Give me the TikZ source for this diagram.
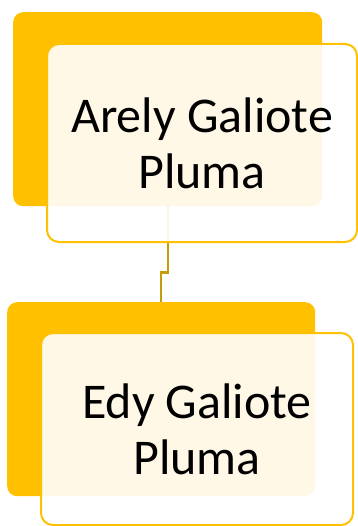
\documentclass[tikz,border=0pt]{standalone}
\usepackage{fontspec}
\setmainfont{Carlito}
\usetikzlibrary{backgrounds,calc}
\definecolor{gold}{RGB}{255,192,0}
\definecolor{connc}{RGB}{200,155,10}
\begin{document}
\begin{tikzpicture}[x=1pt,y=-1pt,
  backbox/.style={fill=gold, draw=none, rounded corners=10pt, inner sep=0pt, anchor=north west},
  frontbox/.style={fill=white, fill opacity=0.9, text opacity=1, draw=gold, draw opacity=1, line width=2pt,
    rounded corners=12pt, inner sep=0pt, anchor=north west, align=center,
    font=\fontsize{50}{56}\selectfont},
  conn/.style={draw=connc, line width=2.4pt}]
\useasboundingbox (0,0) rectangle (357,526);
% top pair
\node[backbox, minimum width=309pt, minimum height=194pt] (b1) at (13,12) {};
\node[frontbox, minimum width=310pt, minimum height=198pt] (f1) at (46,43) {Arely Galiote\\Pluma};
% bottom pair
\node[backbox, minimum width=308pt, minimum height=194pt] (b2) at (7,302) {};
\node[frontbox, minimum width=312pt, minimum height=192pt] (f2) at (40,332) {Edy Galiote\\Pluma};
% connector
\coordinate (m) at ($(f1.south)!0.5!(b2.north)$);
\begin{pgfonlayer}{background}
\draw[conn] (b1.south) -- (b1.south |- m) -| (b2.north);
\end{pgfonlayer}
\end{tikzpicture}
\end{document}
